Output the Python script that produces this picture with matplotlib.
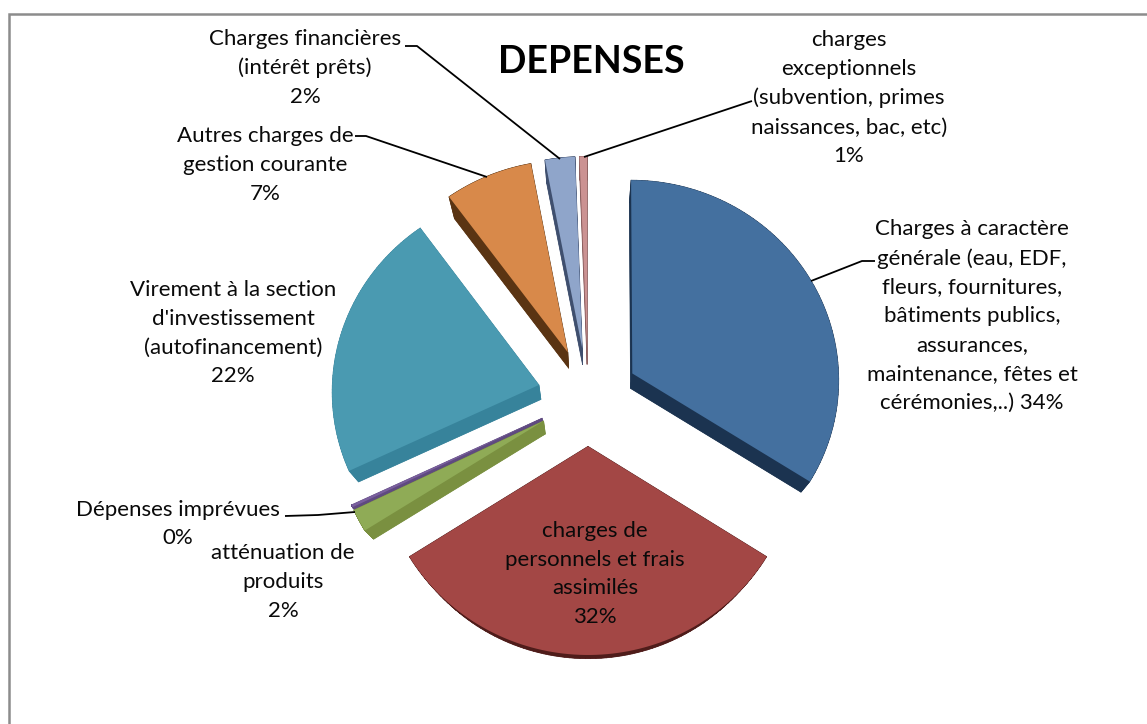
import numpy as np
import matplotlib
matplotlib.use("Agg")
import matplotlib.pyplot as plt
from matplotlib.collections import PolyCollection
from matplotlib.patches import Polygon

plt.rcParams["font.family"] = ["Lato", "DejaVu Sans"]

# values (clockwise from 12 o'clock)
labels = [
    "Charges à caractère\ngénérale (eau, EDF,\nfleurs, fournitures,\nbâtiments publics,\nassurances,\nmaintenance, fêtes et\ncérémonies,..) 34%",
    "charges de\npersonnels et frais\nassimilés\n32%",
    "atténuation de\nproduits\n2%",
    "Dépenses imprévues\n0%",
    "Virement à la section\nd'investissement\n(autofinancement)\n22%",
    "Autres charges de\ngestion courante\n7%",
    "Charges financières\n(intérêt prêts)\n2%",
    "charges\nexceptionnels\n(subvention, primes\nnaissances, bac, etc)\n1%",
]
values = [34, 32, 1.8, 0.2, 21.9, 7.1, 2.4, 0.6]

top_colors = ["#44709f", "#a34745", "#8fab56", "#7a5f9e", "#4a9ab1", "#d8894a", "#8fa5ca", "#cb9292"]
side_colors = ["#1b3350", "#4f1c1a", "#7a9040", "#5f4a80", "#37839b", "#5a3413", "#3f4f6e", "#8c6060"]

# label centre positions in pixels
label_pos = [(972, 316), (595, 574), (283, 582), (178, 524), (233, 333), (265, 165), (305, 68), (849, 98)]

# leader lines in pixels
leaders = [
    [(875, 261), (862, 261), (811, 281)],
    [(285, 516), (318, 515), (355, 512)],
    [(355, 136), (366, 136), (487, 177)],
    [(405, 46), (417, 46), (560, 159)],
    [(752, 101), (584, 157)],
]

CX, CY = 588, 397
SX, SY, K = 207, 200, 0.028
DEPTH, SHRINK = 14, 0.96


def project(xy):
    w = 1 + K * xy[:, 1]
    return np.column_stack([CX + SX * xy[:, 0] / w, CY - SY * xy[:, 1] / w])


def outline(w):
    # dense outline of a pie wedge, the flattened path is too coarse
    t = np.radians(np.linspace(w.theta1, w.theta2, 80))
    arc = np.column_stack([w.center[0] + w.r * np.cos(t), w.center[1] + w.r * np.sin(t)])
    return np.vstack([[w.center], arc, [w.center]])


fig = plt.figure(figsize=(11.47, 7.24), dpi=100)
ax = fig.add_axes([0, 0, 1, 1])

wedges, _ = ax.pie(values, explode=[0.245] * len(values), startangle=90, counterclock=False, radius=1)
ax.set_aspect("auto")
ax.set_xlim(0, 1147)
ax.set_ylim(724, 0)
ax.axis("off")

for i, w in enumerate(wedges):
    top = project(outline(w))
    w.remove()
    # lower face: slightly smaller and pushed down
    low = np.column_stack([CX + (top[:, 0] - CX) * SHRINK, CY + (top[:, 1] - CY) * SHRINK + DEPTH])
    quads = [[top[j], top[j + 1], low[j + 1], low[j]] for j in range(len(top) - 1)]
    ax.add_collection(PolyCollection(quads, facecolors=side_colors[i], edgecolors=side_colors[i], linewidths=0.5, zorder=2 - i * 0.01))
    ax.add_patch(Polygon(low, closed=True, facecolor=side_colors[i], edgecolor="none", zorder=2 - i * 0.01))
    ax.add_patch(Polygon(top, closed=True, facecolor=top_colors[i], edgecolor="none", zorder=3 + i * 0.01))

for line in leaders:
    pts = np.array(line)
    ax.plot(pts[:, 0], pts[:, 1], color="black", lw=1.3, zorder=4, solid_capstyle="butt")

for txt, (x, y) in zip(labels, label_pos):
    ax.text(x, y, txt, ha="center", va="center", fontsize=16, color="#0a0a0a", linespacing=1.56, zorder=5)

ax.text(591, 62, "DEPENSES", ha="center", va="center", fontsize=27, fontweight="bold", color="black", zorder=5)

# chart frame: only top and left show in the crop
ax.plot([1147, 8.5, 8.5], [13.5, 13.5, 724], color="#8c8c8c", lw=1.8, zorder=1, solid_joinstyle="miter")

fig.savefig("out.png", dpi=100)
